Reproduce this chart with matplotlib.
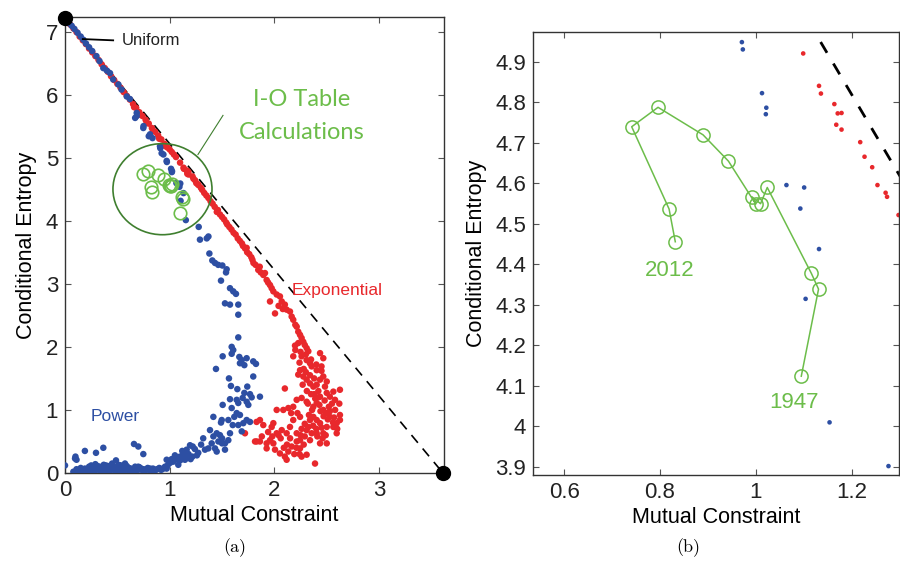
import matplotlib
matplotlib.use('Agg')
import matplotlib.pyplot as plt
from matplotlib.patches import Ellipse

plt.rcParams['font.family'] = ['Liberation Sans', 'DejaVu Sans']

BLUE = '#2d4fa3'
RED = '#e8282c'
GREEN = '#6cbd4a'
DKGREEN = '#3f7f2f'

# ---------------- data ----------------
# endpoints: uniform (max entropy) and max constraint
end_M = [0.0, 3.61]
end_H = [7.22, 0.0]

red_diag_M = [0.02, 0.05, 0.08, 0.11, 0.14, 0.17, 0.20, 0.23, 0.26, 0.29,
              0.32, 0.35, 0.38, 0.41, 0.44, 0.47, 0.50, 0.53, 0.56, 0.59,
              0.62, 0.65, 0.68, 0.71, 0.74, 0.77, 0.80, 0.83, 0.86, 0.89,
              0.92, 0.95, 0.98, 1.00, 1.02, 1.04, 1.06,
              0.66, 0.72, 0.78, 0.84, 0.90, 0.96]
red_diag_H = [7.17, 7.11, 7.05, 6.99, 6.92, 6.86, 6.80, 6.73, 6.67, 6.61,
              6.55, 6.48, 6.42, 6.36, 6.29, 6.23, 6.17, 6.11, 6.04, 5.98,
              5.92, 5.85, 5.79, 5.72, 5.66, 5.60, 5.54, 5.47, 5.41, 5.35,
              5.29, 5.22, 5.16, 5.13, 5.09, 5.05, 5.01,
              5.80, 5.68, 5.55, 5.43, 5.30, 5.18]

red_mid_M = [1.099, 1.132, 1.136, 1.164, 1.171, 1.179, 1.168, 1.179, 1.218, 1.227,
             1.243, 1.254, 1.271, 1.274, 1.298, 1.31, 1.33, 1.35, 1.37, 1.39,
             1.41, 1.43, 1.45, 1.46, 1.48, 1.50, 1.52, 1.54, 1.55, 1.57,
             1.59, 1.61, 1.63, 1.65, 1.67, 1.69, 1.70, 1.72, 1.735, 1.74,
             1.76, 1.78, 1.79, 1.80, 1.82, 1.846, 1.86, 1.87, 1.894, 1.91,
             1.926, 1.94, 1.958, 1.974, 1.99, 2.022, 2.053, 2.07, 2.10, 2.117,
             2.149, 2.165, 2.18, 2.213, 2.228, 2.245, 2.26, 2.276, 2.29, 2.308,
             2.324, 1.958, 2.006, 2.04, 2.08, 2.20]
red_mid_H = [4.921, 4.841, 4.822, 4.796, 4.773, 4.774, 4.745, 4.733, 4.702, 4.666,
             4.640, 4.596, 4.577, 4.567, 4.522, 4.49, 4.44, 4.40, 4.36, 4.31,
             4.27, 4.22, 4.14, 4.17, 4.10, 4.06, 4.02, 3.97, 3.94, 3.90,
             3.86, 3.81, 3.78, 3.72, 3.68, 3.64, 3.60, 3.56, 3.57, 3.50,
             3.47, 3.42, 3.38, 3.33, 3.30, 3.22, 3.27, 3.18, 3.14, 3.17,
             3.06, 3.02, 2.98, 2.93, 2.88, 2.83, 2.80, 2.72, 2.67, 2.59,
             2.56, 2.48, 2.43, 2.32, 2.24, 2.19, 2.14, 2.08, 2.03, 1.98,
             1.93, 2.72, 2.53, 2.65, 2.60, 2.35]

red_cloud_M = [2.228, 2.197, 2.18, 2.26, 2.308, 2.34, 2.356, 2.404, 2.436, 2.467,
               2.45, 2.245, 2.228, 2.276, 2.308, 2.34, 2.372, 2.404, 2.436, 2.467,
               2.483, 2.50, 2.53, 2.563, 2.626, 2.579, 2.436, 2.404, 2.372, 2.308,
               2.26, 2.213, 2.18, 2.133, 2.085, 2.022, 2.10, 2.467, 2.50, 2.53,
               2.626, 2.595, 2.563, 2.50, 2.436, 2.404, 2.372, 2.34, 2.324, 2.308,
               2.356, 2.404, 2.467, 2.50, 2.436, 2.34, 2.29, 2.245, 2.213, 2.245,
               2.18, 2.149, 2.117, 2.07, 1.99, 2.022, 1.958, 1.99, 1.926, 1.862,
               1.815, 2.006, 2.053, 2.10, 2.133, 2.165, 2.213, 2.245, 2.26, 2.308,
               2.117, 2.388, 2.595, 2.626, 1.974, 1.719, 1.83, 1.894, 1.862, 1.831,
               1.926,
               2.20, 2.25, 2.30, 2.35, 2.40, 2.45, 2.50, 2.55, 2.38, 2.42,
               2.48, 2.52, 2.30, 2.34, 2.28, 2.24, 2.32, 2.36, 2.44, 2.40,
               2.26, 2.22, 2.16, 2.12, 2.06, 2.56, 2.60, 2.46, 2.42, 2.38,
               2.27, 2.31, 2.35, 2.39, 2.43, 2.47, 2.51, 2.21, 2.25, 2.29,
               2.33, 2.37, 2.41, 2.45, 2.49, 2.53, 2.57, 2.19, 2.15, 2.09,
               2.04, 1.98, 1.94, 1.88, 2.62, 2.58, 2.28, 2.24]
red_cloud_H = [2.06, 2.02, 1.85, 1.85, 1.79, 1.74, 1.69, 1.63, 1.90, 1.82,
               1.69, 1.63, 1.56, 1.53, 1.48, 1.42, 1.37, 1.40, 1.48, 1.53,
               1.37, 1.27, 1.21, 1.29, 1.32, 1.16, 1.21, 1.11, 1.05, 1.13,
               1.19, 1.16, 1.05, 1.03, 1.00, 1.00, 1.34, 1.00, 0.95, 0.89,
               0.92, 0.79, 0.73, 0.73, 0.79, 0.84, 0.89, 0.84, 0.73, 0.68,
               0.63, 0.63, 0.63, 0.47, 0.47, 0.52, 0.58, 0.52, 0.63, 0.89,
               0.84, 0.73, 0.63, 0.68, 0.79, 0.63, 0.52, 0.47, 0.47, 0.50,
               0.50, 0.37, 0.31, 0.26, 0.34, 0.42, 0.50, 0.39, 0.26, 0.29,
               0.21, 0.15, 0.63, 0.84, 0.73, 0.63, 0.81, 0.76, 0.84, 0.50,
               0.39,
               1.95, 1.92, 1.88, 1.80, 1.72, 1.62, 1.45, 1.10, 1.25, 1.30,
               1.15, 1.05, 1.60, 1.55, 1.65, 1.75, 1.10, 1.00, 0.98, 0.70,
               0.70, 0.95, 0.95, 0.45, 0.55, 0.80, 0.70, 0.55, 1.20, 1.50,
               1.40, 1.30, 1.25, 1.18, 1.08, 0.90, 0.85, 0.40, 0.60, 0.78,
               0.92, 0.75, 0.58, 0.72, 0.60, 0.98, 0.88, 0.30, 0.55, 0.40,
               0.60, 0.58, 0.65, 0.58, 1.10, 1.00, 0.45, 0.30]

blue_diag_M = [0.00, 0.02, 0.04, 0.064, 0.09, 0.12, 0.15, 0.175, 0.20, 0.23,
               0.26, 0.30, 0.33, 0.366, 0.40, 0.43, 0.46, 0.51, 0.54, 0.59,
               0.62, 0.685, 0.67, 0.685, 0.75, 0.748, 0.80, 0.812, 0.836, 0.907,
               0.91, 0.923, 0.94]
blue_diag_H = [7.21, 7.17, 7.13, 7.09, 7.04, 6.98, 6.92, 6.87, 6.81, 6.75,
               6.69, 6.61, 6.53, 6.42, 6.38, 6.34, 6.24, 6.16, 6.08, 5.97,
               5.93, 5.71, 5.63, 5.66, 5.50, 5.47, 5.34, 5.37, 5.31, 5.18,
               5.15, 5.07, 5.05]

blue_mid_M = [0.971, 0.973, 1.013, 1.022, 1.021, 1.064, 1.101, 1.093, 1.132, 1.104,
              1.154, 1.277]
blue_mid_H = [4.949, 4.931, 4.823, 4.787, 4.771, 4.596, 4.590, 4.538, 4.438, 4.315,
              4.010, 3.902]

blue_arm_M = [1.289, 1.354, 1.37, 1.379, 1.407, 1.464, 1.503, 1.544, 1.538, 1.49,
              1.576, 1.607, 1.633, 1.528, 1.576, 1.655, 1.655, 1.655, 1.592, 1.607,
              1.506, 1.592, 1.665, 1.688, 1.735, 1.671, 1.713, 1.798, 1.824, 1.442,
              1.798, 1.566, 1.585, 1.646, 1.741, 1.713, 1.767, 1.783, 1.697, 1.576,
              1.64, 1.735, 1.862, 1.506, 1.592, 1.655, 1.751, 1.64, 1.671, 1.617,
              1.417, 1.497, 1.56, 1.735, 1.703, 1.655, 1.602, 1.767, 1.49, 1.385,
              1.449, 1.48, 1.576, 1.688, 1.417, 1.50, 1.56, 1.465, 1.401, 1.433,
              1.50, 1.528, 1.369, 1.449, 1.528, 1.337, 1.273, 1.22, 1.194, 1.162,
              1.13, 1.217, 1.098, 1.067, 1.146, 1.035, 1.082, 1.003, 0.971, 0.955,
              0.907, 0.86, 0.828, 1.019, 1.433]
blue_arm_H = [3.70, 3.72, 3.75, 3.48, 3.37, 3.30, 3.29, 3.23, 3.18, 3.05,
              2.93, 2.88, 2.84, 2.69, 2.67, 2.67, 2.51, 2.15, 2.00, 1.95,
              1.85, 1.89, 1.84, 1.79, 1.82, 1.74, 1.71, 1.77, 1.73, 1.65,
              1.53, 1.50, 1.38, 1.33, 1.37, 1.27, 1.25, 1.20, 1.19, 1.17,
              1.16, 1.13, 1.21, 1.08, 1.03, 1.11, 1.08, 0.95, 0.92, 0.89,
              0.89, 0.84, 0.84, 0.84, 0.79, 0.76, 0.76, 0.81, 0.80, 0.68,
              0.63, 0.60, 0.63, 0.66, 0.58, 0.55, 0.52, 0.50, 0.47, 0.39,
              0.47, 0.47, 0.39, 0.34, 0.37, 0.37, 0.32, 0.42, 0.44, 0.37,
              0.31, 0.26, 0.26, 0.22, 0.21, 0.18, 0.13, 0.16, 0.21, 0.10,
              0.07, 0.05, 0.06, 0.22, 3.33]

blue_base_M = [0.08, 0.10, 0.12, 0.14, 0.16, 0.18, 0.20, 0.22, 0.24, 0.26,
               0.28, 0.30, 0.32, 0.34, 0.36, 0.38, 0.40, 0.42, 0.44, 0.46,
               0.48, 0.50, 0.52, 0.54, 0.56, 0.58, 0.60, 0.62, 0.64, 0.66,
               0.68, 0.70, 0.72, 0.74, 0.76, 0.78, 0.80, 0.82, 0.84, 0.86,
               0.88, 0.90, 0.92, 0.94, 0.11, 0.15, 0.19, 0.23, 0.27, 0.31,
               0.35, 0.39, 0.43, 0.47, 0.51, 0.55, 0.59, 0.63, 0.67, 0.71,
               0.75, 0.79, 0.83, 0.25, 0.29, 0.33, 0.37, 0.41, 0.45, 0.49,
               0.53, 0.57, 0.61]
blue_base_H = [0.02, 0.01, 0.03, 0.02, 0.04, 0.03, 0.05, 0.02, 0.06, 0.04,
               0.03, 0.07, 0.05, 0.02, 0.06, 0.04, 0.08, 0.03, 0.05, 0.07,
               0.02, 0.06, 0.04, 0.09, 0.03, 0.05, 0.07, 0.02, 0.04, 0.06,
               0.03, 0.05, 0.08, 0.04, 0.02, 0.06, 0.05, 0.03, 0.07, 0.04,
               0.06, 0.08, 0.05, 0.07, 0.06, 0.08, 0.07, 0.10, 0.09, 0.11,
               0.08, 0.12, 0.10, 0.09, 0.13, 0.08, 0.11, 0.07, 0.10, 0.09,
               0.06, 0.08, 0.05, 0.12, 0.14, 0.10, 0.13, 0.11, 0.15, 0.09,
               0.12, 0.10, 0.08]

blue_low_M = [0.00, 0.096, 0.10, 0.11, 0.19, 0.296, 0.366, 0.659, 0.70, 0.748,
              0.487, 0.573, 0.525, 0.70, 0.812, 0.907, 0.971, 0.98, 1.05, 1.10,
              1.12, 1.15, 1.18, 1.20, 1.24, 1.26, 1.30, 1.32]
blue_low_H = [0.12, 0.23, 0.26, 0.21, 0.35, 0.32, 0.40, 0.46, 0.42, 0.30,
              0.20, 0.15, 0.12, 0.10, 0.07, 0.06, 0.07, 0.12, 0.28, 0.20,
              0.35, 0.25, 0.30, 0.22, 0.38, 0.28, 0.45, 0.55]

# I-O table trajectory, 1947 -> 2012
io_M = [1.095, 1.131, 1.116, 1.024, 1.010, 0.992, 1.000, 0.943, 0.890, 0.796,
        0.741, 0.819, 0.832]
io_H = [4.124, 4.339, 4.378, 4.590, 4.550, 4.567, 4.549, 4.655, 4.720, 4.788,
        4.740, 4.537, 4.456]
io_first_label = '1947'
io_last_label = '2012'

left_xticks = [0, 1, 2, 3]
left_yticks = [0, 1, 2, 3, 4, 5, 6, 7]
right_xticks = [0.6, 0.8, 1.0, 1.2]
right_xlabels = ['0.6', '0.8', '1', '1.2']
right_yticks = [3.9, 4.0, 4.1, 4.2, 4.3, 4.4, 4.5, 4.6, 4.7, 4.8, 4.9]
right_ylabels = ['3.9', '4', '4.1', '4.2', '4.3', '4.4', '4.5', '4.6', '4.7', '4.8', '4.9']

red_M = red_diag_M + red_mid_M + red_cloud_M
red_H = red_diag_H + red_mid_H + red_cloud_H
blue_M = blue_diag_M + blue_mid_M + blue_arm_M + blue_base_M + blue_low_M
blue_H = blue_diag_H + blue_mid_H + blue_arm_H + blue_base_H + blue_low_H

# ---------------- figure ----------------
fig = plt.figure(figsize=(9, 5.65), dpi=100)
ax1 = fig.add_axes([65/900, 92/565, 379/900, 456/565])
ax2 = fig.add_axes([533/900, 90/565, 366.5/900, 443/565])

for ax in (ax1, ax2):
    for s in ax.spines.values():
        s.set_color('#333333')
        s.set_linewidth(1.0)
    ax.tick_params(direction='in', top=True, right=True, length=4, width=0.8,
                   color='#555555', labelcolor='#222222', labelsize=16, pad=5)

# ----- left panel -----
ax1.plot(end_M, end_H, linestyle=(0, (6, 4.5)), color='black', lw=1.2, zorder=1)
ax1.scatter(red_M, red_H, s=22, color=RED, edgecolors='none', zorder=2)
ax1.scatter(blue_M, blue_H, s=22, color=BLUE, edgecolors='none', zorder=3)
ax1.plot(io_M, io_H, 'o', mfc='none', mec=GREEN, ms=9, mew=1.2, zorder=4)
ax1.plot(end_M, end_H, 'o', color='black', ms=10, ls='none', clip_on=False, zorder=6)

ax1.add_patch(Ellipse((0.931, 4.50), 0.946, 1.444, fill=False, ec=DKGREEN, lw=1.2, zorder=5))
ax1.plot([1.27, 1.509], [5.05, 5.67], color=DKGREEN, lw=0.8, zorder=5)
ax1.plot([0.17, 0.46], [6.88, 6.86], color='black', lw=1.3, zorder=5)
ax1.text(0.545, 6.86, 'Uniform', fontsize=12, color='#222222', va='center', ha='left')
ax1.text(2.168, 2.89, 'Exponential', fontsize=12.5, color=RED, va='center', ha='left')
ax1.text(0.248, 0.89, 'Power', fontsize=12.5, color=BLUE, va='center', ha='left')
ax1.text(2.264, 5.92, 'I-O Table', fontsize=17, color=GREEN, va='center', ha='center',
         family=['Lato', 'DejaVu Sans'])
ax1.text(2.264, 5.40, 'Calculations', fontsize=17, color=GREEN, va='center', ha='center',
         family=['Lato', 'DejaVu Sans'])

ax1.set_xlim(0, 3.62)
ax1.set_ylim(0, 7.23)
ax1.set_xticks(left_xticks)
ax1.set_yticks(left_yticks)
ax1.set_xlabel('Mutual Constraint', fontsize=15.5, labelpad=3)
ax1.set_ylabel('Conditional Entropy', fontsize=15.5, labelpad=6)

# ----- right panel -----
ax2.plot(end_M, end_H, linestyle=(0, (4.5, 4.5)), color='black', lw=2, zorder=1)
ax2.scatter(red_M, red_H, s=11, color=RED, edgecolors='none', zorder=2)
ax2.scatter(blue_M, blue_H, s=11, color=BLUE, edgecolors='none', zorder=3)
ax2.plot(io_M, io_H, '-o', color=GREEN, mfc='none', mec=GREEN, ms=9.5, mew=1.1, lw=1.1, zorder=4)
ax2.annotate(io_first_label, (io_M[0], io_H[0]), xytext=(-5, -19), textcoords='offset points',
             ha='center', va='center', fontsize=16, color=GREEN)
ax2.annotate(io_last_label, (io_M[-1], io_H[-1]), xytext=(-4, -20.5), textcoords='offset points',
             ha='center', va='center', fontsize=16, color=GREEN)

ax2.set_xlim(0.535, 1.30)
ax2.set_ylim(3.88, 4.974)
ax2.set_xticks(right_xticks)
ax2.set_xticklabels(right_xlabels)
ax2.set_yticks(right_yticks)
ax2.set_yticklabels(right_ylabels)
ax2.set_xlabel('Mutual Constraint', fontsize=15.5, labelpad=3)
ax2.set_ylabel('Conditional Entropy', fontsize=15.5, labelpad=6)

fig.text(235/900, 1 - 548/565, '(a)', fontsize=13, family='cmr10', ha='center', va='center')
fig.text(688/900, 1 - 548/565, '(b)', fontsize=13, family='cmr10', ha='center', va='center')

fig.savefig('out.png', dpi=100)
